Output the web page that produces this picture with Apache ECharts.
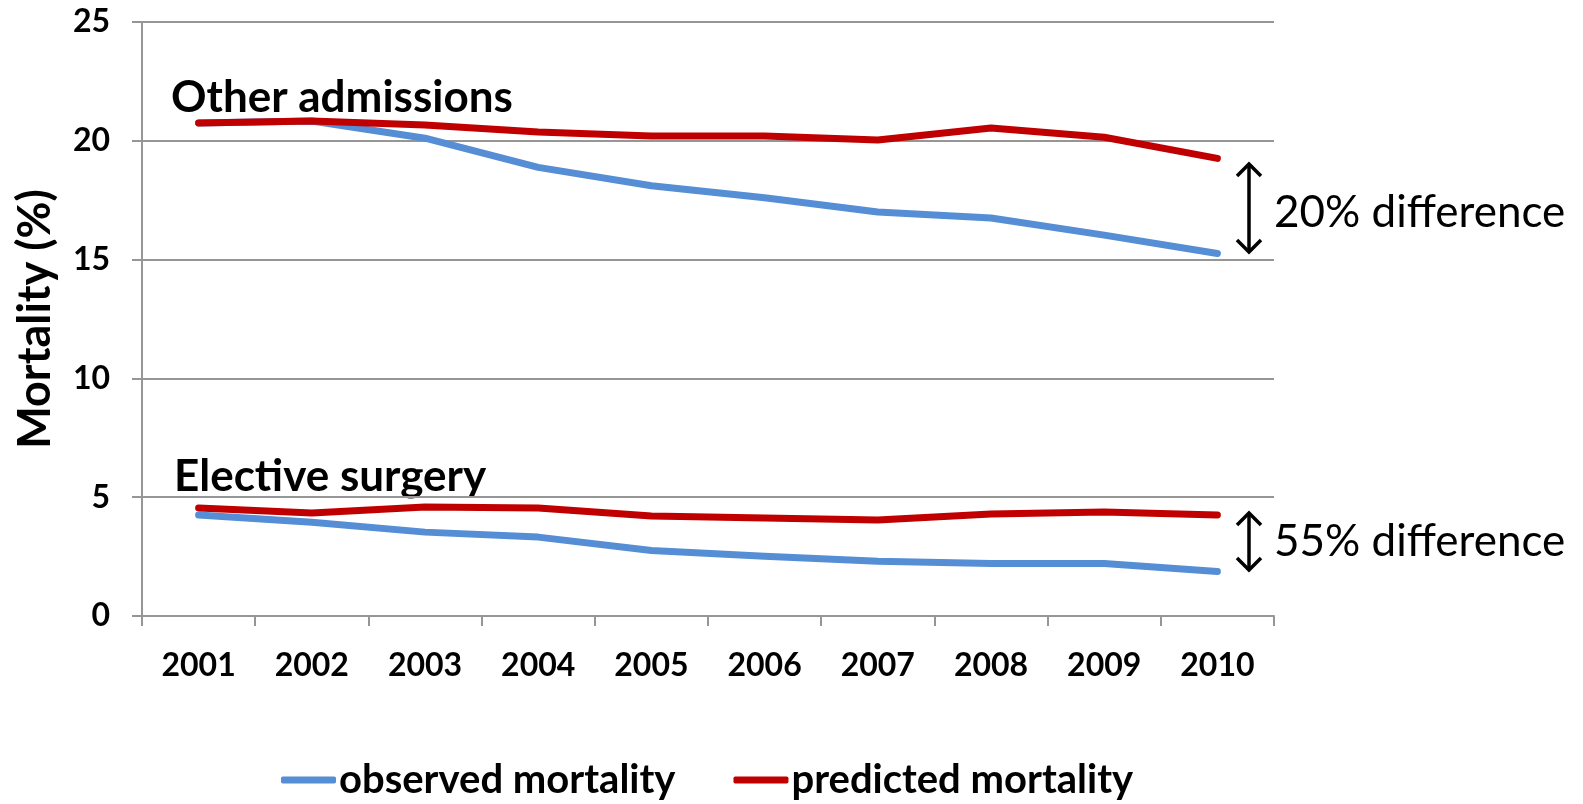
<!DOCTYPE html>
<html>
<head>
<meta charset="utf-8">
<script src="https://cdn.jsdelivr.net/npm/echarts@6/dist/echarts.min.js"></script>
<style>html,body{margin:0;padding:0;background:#fff}#c{width:1583px;height:804px}</style>
</head>
<body>
<div id="c"></div>
<script>
const years = ['2001','2002','2003','2004','2005','2006','2007','2008','2009','2010'];
const otherObserved  = [20.75, 20.83, 20.11, 18.88, 18.11, 17.60, 17.00, 16.75, 16.03, 15.26];
const otherPredicted = [20.75, 20.83, 20.66, 20.37, 20.20, 20.20, 20.03, 20.54, 20.15, 19.26];
const electiveObserved  = [4.25, 3.95, 3.53, 3.32, 2.76, 2.51, 2.30, 2.21, 2.21, 1.87];
const electivePredicted = [4.55, 4.34, 4.59, 4.55, 4.21, 4.12, 4.04, 4.29, 4.38, 4.25];
const yTicks = [0, 5, 10, 15, 20, 25];
const seriesNames = ['observed mortality', 'predicted mortality'];

const FONT = 'Lato, "Open Sans", sans-serif';
const BLUE = '#558ED5', RED = '#C00000';

const chart = echarts.init(document.getElementById('c'), null, {renderer: 'canvas'});

function lineSeries(name, data, color) {
  return {
    name, type: 'line', data, symbol: 'none', smooth: false,
    lineStyle: {color, width: 7, cap: 'round', join: 'round'},
    itemStyle: {color},
    emphasis: {disabled: true}
  };
}

function arrow(x, y1, y2) {
  const hw = 12, hh = 13, lw = 3.5;
  return {
    type: 'group',
    children: [
      {type: 'line', shape: {x1: x, y1: y1 + 2, x2: x, y2: y2 - 2}, style: {stroke: '#000', lineWidth: lw}},
      {type: 'polyline', shape: {points: [[x - hw, y1 + hh], [x, y1 + 1], [x + hw, y1 + hh]]}, style: {stroke: '#000', lineWidth: lw, fill: null, lineJoin: 'miter'}},
      {type: 'polyline', shape: {points: [[x - hw, y2 - hh], [x, y2 - 1], [x + hw, y2 - hh]]}, style: {stroke: '#000', lineWidth: lw, fill: null, lineJoin: 'miter'}}
    ]
  };
}

chart.setOption({
  backgroundColor: '#fff',
  animation: false,
  grid: {left: 142, right: 309, top: 22, bottom: 188, containLabel: false},
  xAxis: {
    type: 'category', data: years, boundaryGap: true,
    axisLine: {lineStyle: {color: '#969696', width: 2}},
    axisTick: {show: true, alignWithLabel: false, length: 10, lineStyle: {color: '#969696', width: 2}},
    axisLabel: {color: '#000', fontFamily: FONT, fontWeight: 'bold', fontSize: 32, margin: 34}
  },
  yAxis: {
    type: 'value', min: 0, max: 25, interval: 5,
    name: 'Mortality (%)', nameLocation: 'middle', nameGap: 84,
    nameTextStyle: {color: '#000', fontFamily: FONT, fontWeight: 'bold', fontSize: 45},
    axisLine: {show: true, lineStyle: {color: '#969696', width: 2}},
    axisTick: {show: true, length: 10, lineStyle: {color: '#969696', width: 2}},
    splitLine: {lineStyle: {color: '#969696', width: 2}},
    axisLabel: {color: '#000', fontFamily: FONT, fontWeight: 'bold', fontSize: 32, margin: 32,
      formatter: v => yTicks.includes(v) ? String(v) : ''}
  },
  legend: {
    data: seriesNames, top: 760, left: 281, padding: 0,
    icon: 'roundRect', itemWidth: 55, itemHeight: 7, itemGap: 58,
    textStyle: {color: '#000', fontFamily: FONT, fontWeight: 'bold', fontSize: 40, padding: [0, 0, 0, -2]}
  },
  series: [
    lineSeries(seriesNames[0], otherObserved, BLUE),
    lineSeries(seriesNames[1], otherPredicted, RED),
    lineSeries(seriesNames[0], electiveObserved, BLUE),
    lineSeries(seriesNames[1], electivePredicted, RED)
  ],
  graphic: [
    {type: 'text', left: 171, top: 76, style: {text: 'Other admissions', fill: '#000', font: 'bold 44px ' + FONT}},
    {type: 'text', left: 174, top: 455, style: {text: 'Elective surgery', fill: '#000', font: 'bold 44px ' + FONT}},
    {type: 'text', left: 1274, top: 191, style: {text: '20% difference', fill: '#000', font: '44px ' + FONT}},
    {type: 'text', left: 1274, top: 520, style: {text: '55% difference', fill: '#000', font: '44px ' + FONT}},
    arrow(1249, 163, 253),
    arrow(1249, 512, 571)
  ]
});
</script>
</body>
</html>
